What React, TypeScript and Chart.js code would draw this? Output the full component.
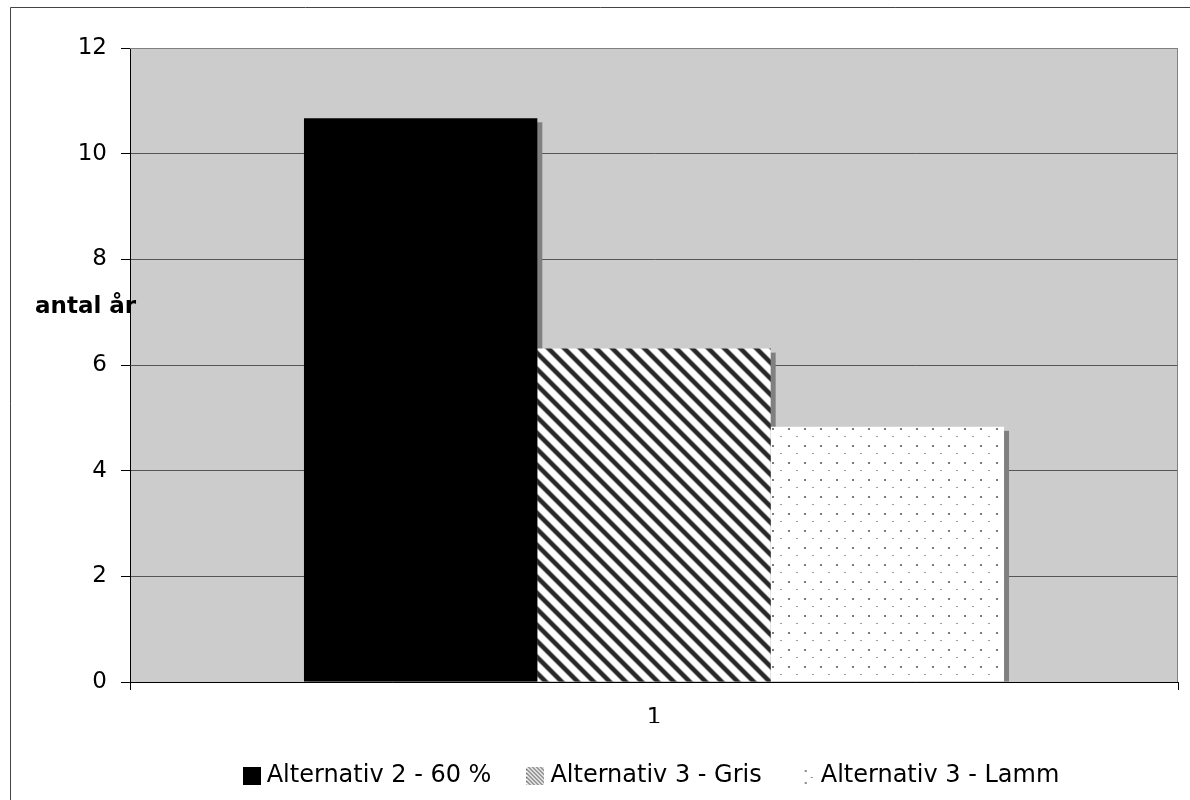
import React, { useEffect, useRef } from "react";
import { Chart, registerables } from "chart.js";

Chart.register(...registerables);

// Chart data
const categories = ["1"];
const seriesNames = ["Alternativ 2 - 60 %", "Alternativ 3 - Gris", "Alternativ 3 - Lamm"];
const alt2Values = [10.67];
const alt3GrisValues = [6.31];
const alt3LammValues = [4.83];
const yTicks = [0, 2, 4, 6, 8, 10, 12];
const yAxisTitle = "antal år";

const FONT = "'DejaVu Sans', Verdana, sans-serif";

// Builds a greyscale tile from a per-pixel intensity function (supersampled)
function greyTile(w: number, h: number, shade: (x: number, y: number) => number): HTMLCanvasElement {
  const c = document.createElement("canvas");
  c.width = w;
  c.height = h;
  const g = c.getContext("2d");
  if (!g) return c;
  const img = g.createImageData(w, h);
  const ss = 4;
  for (let y = 0; y < h; y++) {
    for (let x = 0; x < w; x++) {
      let sum = 0;
      for (let sy = 0; sy < ss; sy++) {
        for (let sx = 0; sx < ss; sx++) {
          sum += shade(x + (sx + 0.5) / ss, y + (sy + 0.5) / ss);
        }
      }
      const v = Math.round(sum / (ss * ss));
      const i = (y * w + x) * 4;
      img.data[i] = v;
      img.data[i + 1] = v;
      img.data[i + 2] = v;
      img.data[i + 3] = 255;
    }
  }
  g.putImageData(img, 0, 0);
  return c;
}

// Diagonal "\" stripes with soft edges
function stripeShade(period: number, dark: number, band: number, ramp: number) {
  return (x: number, y: number) => {
    const d = (((x - y) % period) + period) % period;
    const dist = Math.abs(d - period / 2);
    const t = Math.min(1, Math.max(0, (dist - band / 2) / ramp + 0.5));
    // t = 0 inside band (dark), 1 outside (white)
    return dark + (255 - dark) * t;
  };
}

function makeStripeTile(): HTMLCanvasElement {
  return greyTile(16, 16, stripeShade(16, 40, 6.5, 2));
}

function makeDotTile(): HTMLCanvasElement {
  const w = 16;
  const h = 17;
  const c = document.createElement("canvas");
  c.width = w;
  c.height = h;
  const g = c.getContext("2d");
  if (!g) return c;
  g.fillStyle = "#ffffff";
  g.fillRect(0, 0, w, h);
  g.fillStyle = "#7a7a7a";
  g.fillRect(4, 3, 2, 2);
  g.fillStyle = "#9a9a9a";
  g.fillRect(12, 11, 2, 1);
  return c;
}

// Legend swatches
function makeSolidSwatch(): HTMLCanvasElement {
  const c = document.createElement("canvas");
  c.width = 18;
  c.height = 18;
  const g = c.getContext("2d");
  if (g) {
    g.fillStyle = "#000000";
    g.fillRect(0, 0, 18, 18);
  }
  return c;
}

function makeStripeSwatch(): HTMLCanvasElement {
  return greyTile(18, 18, stripeShade(4, 90, 1.6, 1.2));
}

function makeDotSwatch(): HTMLCanvasElement {
  const c = document.createElement("canvas");
  c.width = 18;
  c.height = 18;
  const g = c.getContext("2d");
  if (g) {
    g.fillStyle = "#ffffff";
    g.fillRect(0, 0, 18, 18);
    g.fillStyle = "#8a8a8a";
    g.fillRect(8, 3, 2, 2);
    g.fillRect(14, 10, 2, 1);
    g.fillRect(8, 15, 2, 2);
  }
  return c;
}

const plotDecor = {
  id: "plotDecor",
  beforeDraw(chart: any) {
    const { ctx, chartArea: a, width, height } = chart;
    ctx.save();
    ctx.fillStyle = "#ffffff";
    ctx.fillRect(0, 0, width, height);
    // outer frame
    ctx.strokeStyle = "#444444";
    ctx.lineWidth = 1;
    ctx.beginPath();
    ctx.moveTo(10.5, height);
    ctx.lineTo(10.5, 7.5);
    ctx.lineTo(width, 7.5);
    ctx.stroke();
    // plot background
    ctx.fillStyle = "#cccccc";
    ctx.fillRect(a.left, a.top, a.right - a.left, a.bottom - a.top);
    ctx.restore();
  },
  beforeDatasetsDraw(chart: any) {
    const { ctx, chartArea: a } = chart;
    ctx.save();
    // plot frame, top and right
    ctx.strokeStyle = "#808080";
    ctx.lineWidth = 1;
    ctx.beginPath();
    ctx.moveTo(a.left, a.top + 0.5);
    ctx.lineTo(a.right - 0.5, a.top + 0.5);
    ctx.lineTo(a.right - 0.5, a.bottom);
    ctx.stroke();
    // bar shadows
    ctx.beginPath();
    ctx.rect(a.left, a.top, a.right - a.left, a.bottom - a.top);
    ctx.clip();
    ctx.fillStyle = "#808080";
    chart.data.datasets.forEach((_: any, di: number) => {
      const meta = chart.getDatasetMeta(di);
      meta.data.forEach((bar: any) => {
        const { x, y, base, width } = bar.getProps(["x", "y", "base", "width"], true);
        ctx.fillRect(x - width / 2 + 5, y + 4, width, base - y - 4);
      });
    });
    ctx.restore();
  },
  afterDraw(chart: any) {
    const { ctx } = chart;
    ctx.save();
    ctx.fillStyle = "#000000";
    ctx.font = `bold 23px ${FONT}`;
    ctx.textBaseline = "alphabetic";
    ctx.textAlign = "left";
    ctx.fillText(yAxisTitle, 35, 313);
    ctx.restore();
  },
};

export default function App() {
  const canvasRef = useRef<HTMLCanvasElement | null>(null);

  useEffect(() => {
    const canvas = canvasRef.current;
    if (!canvas) return;
    const ctx2d = canvas.getContext("2d");
    const stripes = ctx2d?.createPattern(makeStripeTile(), "repeat") || "#444";
    const dots = ctx2d?.createPattern(makeDotTile(), "repeat") || "#fff";
    const swatches = [makeSolidSwatch(), makeStripeSwatch(), makeDotSwatch()];

    const chart = new Chart(canvas, {
      type: "bar",
      data: {
        labels: categories,
        datasets: [
          { label: seriesNames[0], data: alt2Values, backgroundColor: "#000000", borderWidth: 0 },
          { label: seriesNames[1], data: alt3GrisValues, backgroundColor: stripes as any, borderWidth: 0 },
          { label: seriesNames[2], data: alt3LammValues, backgroundColor: dots as any, borderWidth: 0 },
        ],
      },
      options: {
        responsive: false,
        animation: false,
        devicePixelRatio: 1,
        layout: { padding: { top: 48, right: 12, left: 0, bottom: 2 } },
        datasets: { bar: { categoryPercentage: 0.668, barPercentage: 1 } },
        scales: {
          x: {
            offset: true,
            afterFit: (s: any) => {
              s.height = 41;
            },
            grid: {
              display: true,
              offset: true,
              drawOnChartArea: false,
              drawTicks: true,
              tickLength: 8,
              tickColor: "#000000",
              color: "#000000",
            },
            border: { display: true, color: "#000000", width: 1 },
            ticks: { color: "#000000", font: { family: FONT, size: 23 }, padding: 14 },
          },
          y: {
            min: 0,
            max: 12,
            afterFit: (s: any) => {
              s.width = 130;
            },
            afterBuildTicks: (s: any) => {
              s.ticks = yTicks.map((v) => ({ value: v }));
            },
            grid: {
              color: (c: any) => (c.tick && c.tick.value === 12 ? "#808080" : "#555555"),
              tickColor: "#000000",
              tickLength: 9,
              drawTicks: true,
            },
            border: { display: true, color: "#000000", width: 1 },
            ticks: { color: "#000000", font: { family: FONT, size: 23 }, padding: 14 },
          },
        },
        plugins: {
          legend: {
            position: "bottom",
            fullSize: false,
            labels: {
              color: "#000000",
              font: { family: FONT, size: 24 },
              usePointStyle: true,
              pointStyleWidth: 6,
              boxHeight: 18,
              padding: 41,
              generateLabels: (c: any) =>
                Chart.defaults.plugins.legend.labels
                  .generateLabels(c)
                  .map((item: any, i: number) => ({ ...item, pointStyle: swatches[i], lineWidth: 0 })),
            },
          },
          tooltip: { enabled: false },
          title: { display: false },
        },
      },
      plugins: [plotDecor],
    });

    return () => {
      chart.destroy();
    };
  }, []);

  return (
    <div style={{ position: "absolute", left: 0, top: 0, width: 1190, height: 800, background: "#ffffff" }}>
      <canvas ref={canvasRef} width={1190} height={800} style={{ display: "block" }} />
    </div>
  );
}
